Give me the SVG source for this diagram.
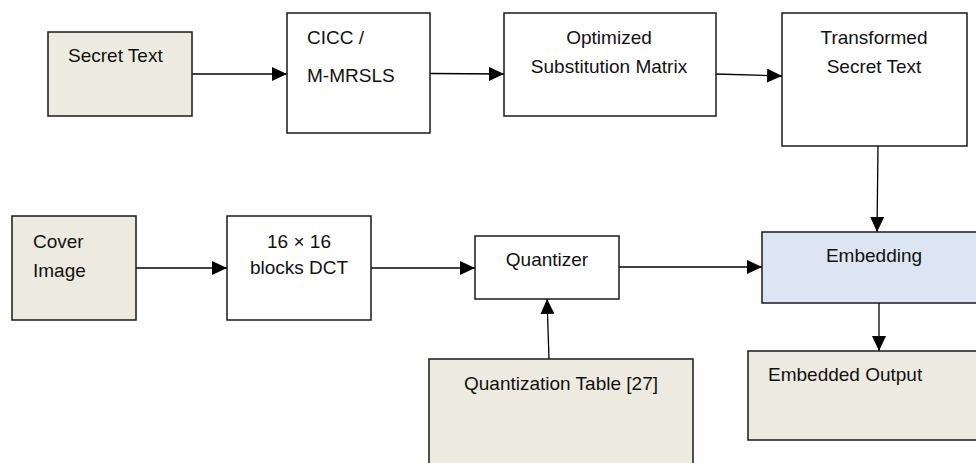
<svg xmlns="http://www.w3.org/2000/svg" width="976" height="463" viewBox="0 0 976 463">
<style>
.box{stroke:#1a1a1a;stroke-width:1.5}
.w{fill:#ffffff}
.b{fill:#edebe0}
.e{fill:#dce6f2}
text{font-family:"Liberation Sans",Arial,sans-serif;font-size:19px;fill:#111}
.c{text-anchor:middle}
.ln{stroke:#000;stroke-width:1.3;fill:none;marker-end:url(#ah)}
</style>
<defs>
<marker id="ah" viewBox="0 0 15 14" refX="15" refY="7" markerWidth="15" markerHeight="14" markerUnits="userSpaceOnUse" orient="auto">
<path d="M0,0 L15,7 L0,14 z" fill="#000"/>
</marker>
</defs>
<rect width="976" height="463" fill="#fff"/>
<g id="connectors">
<line class="ln" x1="192" y1="74" x2="287" y2="74"/>
<line class="ln" x1="430" y1="73.5" x2="504" y2="74"/>
<line class="ln" x1="716" y1="74" x2="782" y2="76"/>
<line class="ln" x1="878" y1="146" x2="877" y2="232"/>
<line class="ln" x1="136" y1="268" x2="227" y2="268"/>
<line class="ln" x1="371" y1="268" x2="475" y2="268"/>
<line class="ln" x1="619" y1="267" x2="762" y2="267"/>
<line class="ln" x1="549" y1="359" x2="547" y2="299"/>
<line class="ln" x1="879" y1="303" x2="879" y2="351"/>
</g>
<g id="secret-text">
<rect class="box b" x="48" y="32" width="144" height="84"/>
<text x="68" y="62">Secret Text</text>
</g>
<g id="cicc">
<rect class="box w" x="287" y="13" width="143" height="120"/>
<text x="307" y="44">CICC /</text>
<text x="307" y="82">M-MRSLS</text>
</g>
<g id="optimized">
<rect class="box w" x="504" y="13" width="212" height="103"/>
<text class="c" x="609" y="44">Optimized</text>
<text class="c" x="609" y="73">Substitution Matrix</text>
</g>
<g id="transformed">
<rect class="box w" x="782" y="13" width="185" height="133"/>
<text class="c" x="874" y="44">Transformed</text>
<text class="c" x="874" y="73">Secret Text</text>
</g>
<g id="cover-image">
<rect class="box b" x="12" y="216" width="124" height="104"/>
<text x="33" y="248">Cover</text>
<text x="33" y="277">Image</text>
</g>
<g id="dct">
<rect class="box w" x="227" y="216" width="144" height="104"/>
<text class="c" x="299" y="248">16 × 16</text>
<text class="c" x="299" y="274">blocks DCT</text>
</g>
<g id="quantizer">
<rect class="box w" x="475" y="236" width="144" height="63"/>
<text class="c" x="547" y="266">Quantizer</text>
</g>
<g id="quant-table">
<rect class="box b" x="429" y="359" width="264" height="110"/>
<text class="c" x="561" y="390">Quantization Table [27]</text>
</g>
<g id="embedding">
<rect class="box e" x="762" y="232" width="230" height="71"/>
<text class="c" x="874" y="262">Embedding</text>
</g>
<g id="embedded-output">
<rect class="box b" x="748" y="351" width="240" height="89"/>
<text x="768" y="381">Embedded Output</text>
</g>
</svg>
